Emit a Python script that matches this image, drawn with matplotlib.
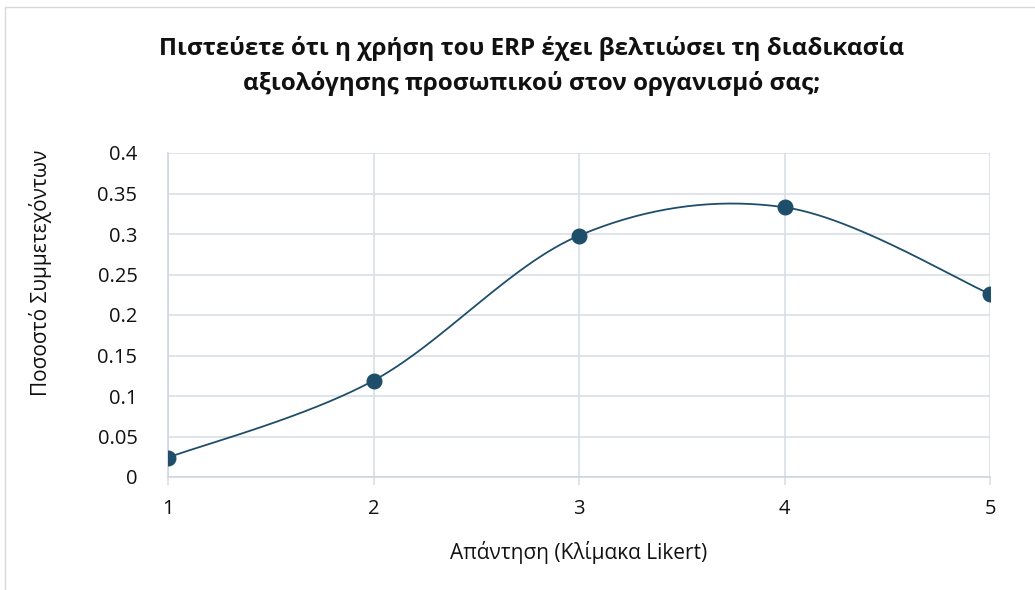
import matplotlib
matplotlib.use('Agg')
import matplotlib.pyplot as plt
import numpy as np

# δεδομένα
likert = [1, 2, 3, 4, 5]
pososto = [0.024, 0.119, 0.298, 0.333, 0.226]
y_ticks = [0, 0.05, 0.1, 0.15, 0.2, 0.25, 0.3, 0.35, 0.4]
y_labels = ['0', '0.05', '0.1', '0.15', '0.2', '0.25', '0.3', '0.35', '0.4']

title = 'Πιστεύετε ότι η χρήση του ERP έχει βελτιώσει τη διαδικασία\nαξιολόγησης προσωπικού στον οργανισμό σας;'
xlabel = 'Απάντηση (Κλίμακα Likert)'
ylabel = 'Ποσοστό Συμμετεχόντων'

LINE_COLOR = '#1f4e6b'
GRID_COLOR = '#d9dee6'

plt.rcParams['font.family'] = ['Open Sans', 'DejaVu Sans']


def smooth_curve(x, y, n=60):
    # εξομάλυνση τύπου Excel (Catmull-Rom με Bezier)
    x = np.asarray(x, float)
    y = np.asarray(y, float)
    pts = np.column_stack([x, y])
    out = []
    for i in range(len(pts) - 1):
        p0 = pts[i - 1] if i > 0 else pts[i]
        p1 = pts[i]
        p2 = pts[i + 1]
        p3 = pts[i + 2] if i + 2 < len(pts) else pts[i + 1]
        c1 = p1 + (p2 - p0) / 6
        c2 = p2 - (p3 - p1) / 6
        t = np.linspace(0, 1, n)[:, None]
        seg = ((1 - t) ** 3) * p1 + 3 * ((1 - t) ** 2) * t * c1 + 3 * (1 - t) * t ** 2 * c2 + t ** 3 * p2
        out.append(seg)
    out = np.vstack(out)
    return out[:, 0], out[:, 1]


fig = plt.figure(figsize=(10.35, 5.9), dpi=100)
ax = fig.add_axes([168 / 1035, 1 - 477 / 590, 822 / 1035, 324 / 590])

# περίγραμμα γραφήματος
fig.patches.append(plt.Rectangle((5 / 1035, -0.05), 1.1, 1 - 7 / 590 + 0.05,
                                 transform=fig.transFigure, fill=False,
                                 edgecolor='#d9d9d9', linewidth=1))

xs, ys = smooth_curve(likert, pososto)
ax.plot(xs, ys, color=LINE_COLOR, linewidth=1.3, zorder=3)
ax.plot(likert, pososto, 'o', color=LINE_COLOR, markersize=10.5, zorder=4)

ax.set_xlim(1, 5)
ax.set_ylim(0, 0.4)
ax.set_xticks(likert)
ax.set_yticks(y_ticks)
ax.set_yticklabels(y_labels)

ax.grid(True, color=GRID_COLOR, linewidth=1.2)
ax.set_axisbelow(True)
for s in ['top', 'right']:
    ax.spines[s].set_visible(False)
ax.spines['left'].set_color('#cfd6e2')
ax.spines['bottom'].set_color('#cfd6e2')
ax.spines['left'].set_linewidth(1.2)
ax.spines['bottom'].set_linewidth(1.2)

ax.tick_params(axis='y', length=0, pad=22, labelsize=14.5, labelcolor='#111111')
ax.tick_params(axis='x', length=6, width=1.2, color=GRID_COLOR, pad=10,
               labelsize=14.5, labelcolor='#111111')

ax.set_xlabel(xlabel, fontsize=15, labelpad=16, color='#111111')
ax.set_ylabel(ylabel, fontsize=15, color='#111111')
ax.yaxis.set_label_coords(-0.141, 0.63)

fig.text(532 / 1035, 1 - 66 / 590, title, ha='center', va='center', fontsize=17.5,
         fontweight='bold', linespacing=1.55, color='#111111')

fig.savefig('out.png', dpi=100, facecolor='white')
